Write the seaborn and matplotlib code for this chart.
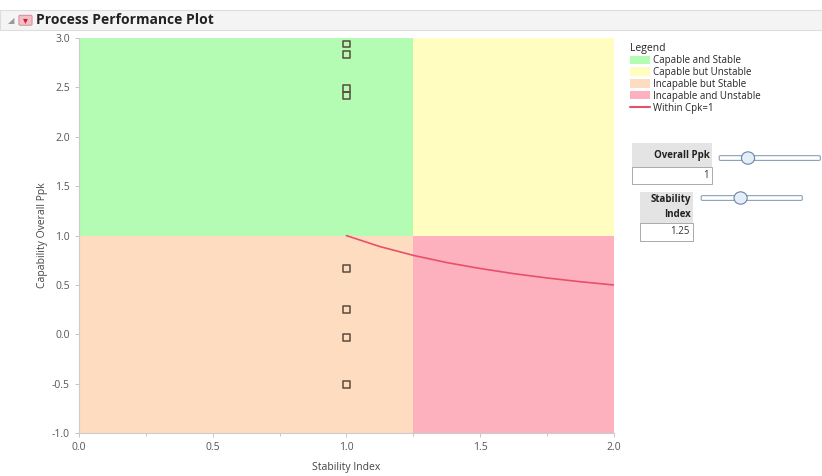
import matplotlib
matplotlib.use("Agg")
from matplotlib import pyplot as plt
from matplotlib.patches import Rectangle, FancyBboxPatch, Ellipse
from matplotlib.lines import Line2D
import seaborn as sns
import pandas as pd

# process points (stability index, overall ppk)
stability_index = [1.0, 1.0, 1.0, 1.0, 1.0, 1.0, 1.0, 1.0]
overall_ppk = [2.94, 2.83, 2.49, 2.42, 0.67, 0.25, -0.03, -0.51]

# within cpk=1 reference curve
curve_si = [1.0, 1.125, 1.25, 1.375, 1.5, 1.625, 1.75, 1.875, 2.0]
curve_ppk = [1.0, 0.889, 0.8, 0.727, 0.667, 0.615, 0.571, 0.533, 0.5]

ppk_limit = 1.0
si_limit = 1.25
x_range = (0.0, 2.0)
y_range = (-1.0, 3.0)

region_names = ['Capable and Stable', 'Capable but Unstable',
                'Incapable but Stable', 'Incapable and Unstable']
region_colors = ['#b4fbb4', '#fffec0', '#fddcc0', '#fdb1bf']
curve_color = '#e8506a'

sns.set_theme(style='white')
plt.rcParams['font.family'] = ['Open Sans', 'DejaVu Sans']

fig = plt.figure(figsize=(8.22, 4.76), dpi=100)
ax = fig.add_axes([0.096, 0.090, 0.651, 0.830])

# quadrants
ax.fill_between([x_range[0], si_limit], ppk_limit, y_range[1], color=region_colors[0], lw=0)
ax.fill_between([si_limit, x_range[1]], ppk_limit, y_range[1], color=region_colors[1], lw=0)
ax.fill_between([x_range[0], si_limit], y_range[0], ppk_limit, color=region_colors[2], lw=0)
ax.fill_between([si_limit, x_range[1]], y_range[0], ppk_limit, color=region_colors[3], lw=0)

sns.lineplot(x=curve_si, y=curve_ppk, ax=ax, color=curve_color, lw=1.2)
df = pd.DataFrame({'si': stability_index, 'ppk': overall_ppk})
sns.scatterplot(data=df, x='si', y='ppk', ax=ax, marker='s', s=24,
                facecolor='none', edgecolor='#5a4a3a', linewidth=1.1, zorder=5)

ax.set_xlim(*x_range)
ax.set_ylim(*y_range)
ax.set_xticks([0.0, 0.5, 1.0, 1.5, 2.0])
ax.set_xticks([0.25, 0.75, 1.25, 1.75], minor=True)
ax.set_yticks([-1.0, -0.5, 0.0, 0.5, 1.0, 1.5, 2.0, 2.5, 3.0])
ax.set_xticklabels(['0.0', '0.5', '1.0', '1.5', '2.0'])
ax.set_yticklabels(['-1.0', '-0.5', '0.0', '0.5', '1.0', '1.5', '2.0', '2.5', '3.0'])
ax.tick_params(axis='both', which='both', direction='out', length=3, width=0.6,
               colors='#bbbbbb', labelcolor='#555555', labelsize=7.5, left=True, bottom=True)
ax.tick_params(axis='both', which='minor', length=2)
ax.set_xlabel('Stability Index', fontsize=7.5, color='#444444', labelpad=6)
ax.set_ylabel('Capability Overall Ppk', fontsize=7.5, color='#444444', labelpad=3)
for side in ['top', 'right']:
    ax.spines[side].set_visible(False)
for side in ['left', 'bottom']:
    ax.spines[side].set_color('#cccccc')
    ax.spines[side].set_linewidth(0.8)

# header bar
fig.patches.append(Rectangle((0.0, 0.937), 1.0, 0.043, transform=fig.transFigure,
                             facecolor='#f4f4f4', edgecolor='#dddddd', lw=0.8))
fig.text(0.010, 0.957, '◢', fontsize=6, color='#999999', va='center', family=['DejaVu Sans'])
fig.patches.append(FancyBboxPatch((0.025, 0.949), 0.012, 0.017, boxstyle='round,pad=0.002',
                                  transform=fig.transFigure, facecolor='#f3c0c8',
                                  edgecolor='#cc8090', lw=0.6))
fig.text(0.031, 0.957, '▾', fontsize=7, color='#cc2233', ha='center', va='center',
         family=['DejaVu Sans'])
fig.text(0.044, 0.957, 'Process Performance Plot', fontsize=10, fontweight='bold',
         color='#222222', va='center')

# legend
handles = [Rectangle((0, 0), 1, 1, facecolor=c, edgecolor='none') for c in region_colors]
handles.append(Line2D([0], [0], color=curve_color, lw=1.5))
labels = region_names + ['Within Cpk=1']
fig.legend(handles, labels, title='Legend', loc='upper left',
           bbox_to_anchor=(0.762, 0.918), frameon=False, fontsize=7,
           title_fontsize=7.5, alignment='left', handlelength=2.0, handleheight=0.9,
           handletextpad=0.3, labelspacing=0.1, borderaxespad=0)


def slider(x0, y0, width, knob_x):
    fig.patches.append(FancyBboxPatch((x0, y0), width, 0.006, boxstyle='round,pad=0.002',
                                      transform=fig.transFigure, facecolor='white',
                                      edgecolor='#8aa0b8', lw=0.8))
    fig.patches.append(Ellipse((knob_x, y0 + 0.003), 0.016, 0.026,
                               transform=fig.transFigure, facecolor='#e4eef8',
                               edgecolor='#6a86a8', lw=0.8))


# slider panel: overall ppk
fig.patches.append(Rectangle((0.769, 0.649), 0.097, 0.051, transform=fig.transFigure,
                             facecolor='#e4e4e4', edgecolor='none'))
fig.text(0.864, 0.674, 'Overall Ppk', fontsize=7, fontweight='bold', ha='right', va='center',
         color='#222222')
fig.patches.append(Rectangle((0.769, 0.613), 0.097, 0.036, transform=fig.transFigure,
                             facecolor='white', edgecolor='#aaaaaa', lw=0.7))
fig.text(0.862, 0.631, '1', fontsize=7, ha='right', va='center', color='#333333')
slider(0.877, 0.665, 0.119, 0.910)

# slider panel: stability index
fig.patches.append(Rectangle((0.779, 0.532), 0.064, 0.064, transform=fig.transFigure,
                             facecolor='#e4e4e4', edgecolor='none'))
fig.text(0.841, 0.580, 'Stability', fontsize=7, fontweight='bold', ha='right', va='center',
         color='#222222')
fig.text(0.841, 0.549, 'Index', fontsize=7, fontweight='bold', ha='right', va='center',
         color='#222222')
fig.patches.append(Rectangle((0.779, 0.494), 0.064, 0.038, transform=fig.transFigure,
                             facecolor='white', edgecolor='#aaaaaa', lw=0.7))
fig.text(0.839, 0.513, '1.25', fontsize=7, ha='right', va='center', color='#333333')
slider(0.855, 0.581, 0.119, 0.901)

fig.savefig('out.png', dpi=100)
plt.close(fig)
